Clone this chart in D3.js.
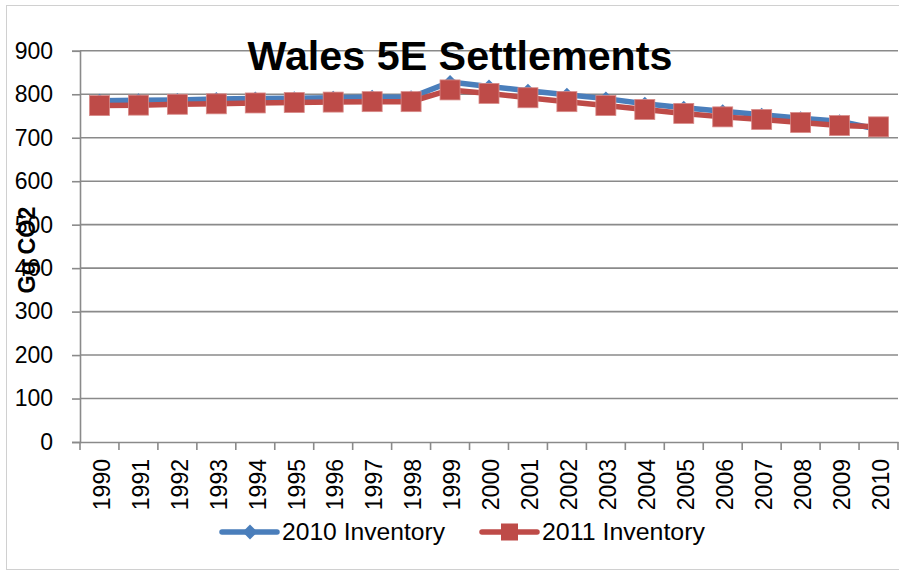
<!doctype html>
<html lang="en">
<head>
<meta charset="utf-8">
<title>Wales 5E Settlements</title>
<style>
  body { margin: 0; background: #fff; }
  svg { display: block; font-family: "Liberation Sans", Arial, sans-serif; }
</style>
</head>
<body>
<svg id="chart" width="899" height="572"></svg>
<script src="https://d3js.org/d3.v7.min.js"></script>
<script>
// years on the category axis
var years = ["1990","1991","1992","1993","1994","1995","1996","1997","1998","1999","2000",
             "2001","2002","2003","2004","2005","2006","2007","2008","2009","2010"];
// Gg CO2
var inv2010 = [785, 786, 787, 789, 790, 791, 792, 794, 793, 828, 818,
               808, 799, 790, 778, 769, 761, 753, 745, 738, 719];
var inv2011 = [774, 775, 777, 778, 780, 781, 782, 783, 783, 810, 802,
               792, 783, 774, 765, 756, 748, 742, 735, 728, 725];
var yTicks = [0, 100, 200, 300, 400, 500, 600, 700, 800, 900];

var svg = d3.select("#chart");
var gridColour = "#8a8a8a";
var blue = "#4a7ebb", red = "#be4b48";

// outer chart border (right side falls off the picture)
svg.append("rect")
    .attr("x", 6.5).attr("y", 5.5)
    .attr("width", 900).attr("height", 564)
    .attr("fill", "#fff")
    .attr("stroke", "#d0d0d0");

var x = d3.scaleBand().domain(years).range([80, 898]);
var y = d3.scaleLinear().domain([0, 900]).range([442, 50.8]);

// horizontal gridlines
svg.append("g").selectAll("line")
    .data(yTicks.filter(function (d) { return d > 0; }))
    .enter().append("line")
    .attr("x1", 80).attr("x2", 898)
    .attr("y1", function (d) { return y(d); })
    .attr("y2", function (d) { return y(d); })
    .attr("stroke", gridColour)
    .attr("stroke-width", 1.6);

// y axis
var yAxis = svg.append("g")
    .attr("transform", "translate(80,0)")
    .call(d3.axisLeft(y).tickValues(yTicks).tickSize(8).tickPadding(19));
yAxis.selectAll("line, path").attr("stroke", gridColour).attr("stroke-width", 1.6);
yAxis.selectAll("text").style("font-size", "23px").attr("fill", "#000")
    .style("font-family", "\"Liberation Sans\", Arial, sans-serif");

// x axis
var xAxis = svg.append("g")
    .attr("transform", "translate(0,442)")
    .call(d3.axisBottom(x).tickSize(0).tickSizeOuter(0));
xAxis.select("path").attr("stroke", gridColour).attr("stroke-width", 1.6);
xAxis.selectAll("text")
    .style("font-size", "23px").attr("fill", "#000")
    .style("font-family", "\"Liberation Sans\", Arial, sans-serif")
    .attr("transform", "rotate(-90)")
    .attr("text-anchor", "end")
    .attr("dy", "0.36em")
    .attr("x", -17)
    .attr("y", 2);
// tick marks between categories
svg.append("g").selectAll("line")
    .data(d3.range(years.length + 1))
    .enter().append("line")
    .attr("x1", function (i) { return 80 + i * x.bandwidth(); })
    .attr("x2", function (i) { return 80 + i * x.bandwidth(); })
    .attr("y1", 442).attr("y2", 450)
    .attr("stroke", gridColour).attr("stroke-width", 1.6);

var cx = function (d, i) { return x(years[i]) + x.bandwidth() / 2; };
var line = d3.line().x(cx).y(function (d) { return y(d); });

// 2010 inventory (blue, diamonds)
svg.append("path").datum(inv2010)
    .attr("d", line).attr("fill", "none")
    .attr("stroke", blue).attr("stroke-width", 5.5).attr("stroke-linejoin", "round");
svg.append("g").selectAll("path")
    .data(inv2010).enter().append("path")
    .attr("d", d3.symbol().type(d3.symbolDiamond2).size(125))
    .attr("transform", function (d, i) { return "translate(" + cx(d, i) + "," + y(d) + ")"; })
    .attr("fill", blue);

// 2011 inventory (red, squares)
svg.append("path").datum(inv2011)
    .attr("d", line).attr("fill", "none")
    .attr("stroke", red).attr("stroke-width", 5.5).attr("stroke-linejoin", "round");
svg.append("g").selectAll("rect")
    .data(inv2011).enter().append("rect")
    .attr("x", function (d, i) { return cx(d, i) - 10; })
    .attr("y", function (d) { return y(d) - 10; })
    .attr("width", 20).attr("height", 20)
    .attr("fill", red)
    .attr("stroke", "#d88a88").attr("stroke-width", 0.8);

// title
svg.append("text")
    .attr("x", 460).attr("y", 70)
    .attr("text-anchor", "middle")
    .attr("textLength", 425).attr("lengthAdjust", "spacingAndGlyphs")
    .style("font-size", "40px").style("font-weight", "bold")
    .text("Wales 5E Settlements");

// y axis title
svg.append("text")
    .attr("transform", "translate(35,250) rotate(-90)")
    .attr("text-anchor", "middle")
    .attr("textLength", 87).attr("lengthAdjust", "spacingAndGlyphs")
    .style("font-size", "24px").style("font-weight", "bold")
    .text("Gg CO2");

// legend
var legend = [
  { name: "2010 Inventory", colour: blue, x: 222, shape: "diamond" },
  { name: "2011 Inventory", colour: red, x: 482, shape: "square" }
];
var lg = svg.append("g").selectAll("g").data(legend).enter().append("g")
    .attr("transform", function (d) { return "translate(" + d.x + ",532)"; });
lg.append("line")
    .attr("x1", 0).attr("x2", 55).attr("y1", 0).attr("y2", 0)
    .attr("stroke", function (d) { return d.colour; })
    .attr("stroke-width", 5.5).attr("stroke-linecap", "round");
lg.filter(function (d) { return d.shape === "diamond"; }).append("path")
    .attr("d", d3.symbol().type(d3.symbolDiamond2).size(140))
    .attr("transform", "translate(28,0)")
    .attr("fill", blue);
lg.filter(function (d) { return d.shape === "square"; }).append("rect")
    .attr("x", 19).attr("y", -8.5).attr("width", 17).attr("height", 17)
    .attr("fill", red);
lg.append("text")
    .attr("x", 60).attr("y", 8)
    .attr("textLength", 163).attr("lengthAdjust", "spacingAndGlyphs")
    .style("font-size", "23px")
    .text(function (d) { return d.name; });
</script>
</body>
</html>
